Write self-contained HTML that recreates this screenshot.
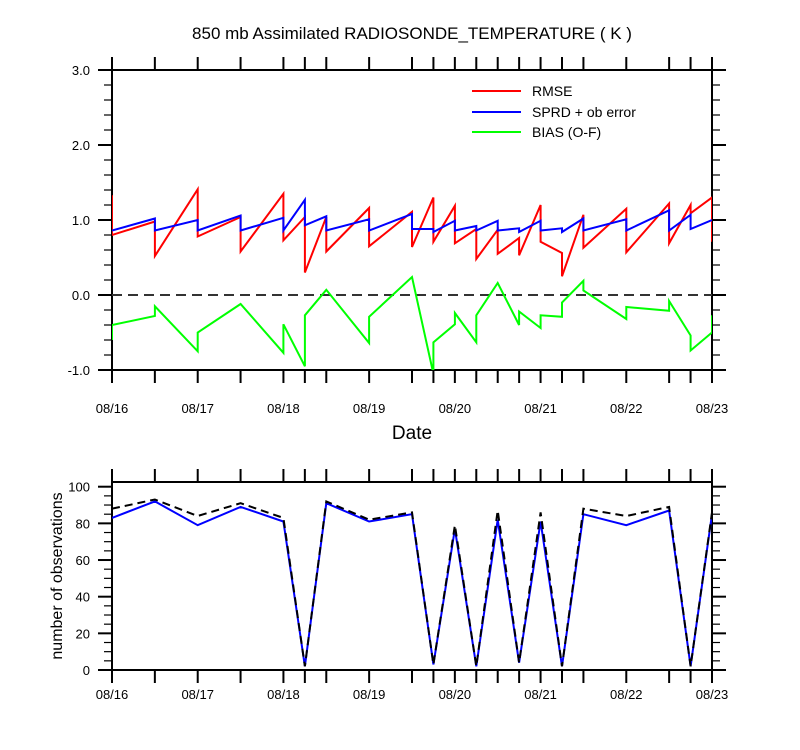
<!DOCTYPE html>
<html><head><meta charset="utf-8"><style>
html,body{margin:0;padding:0;background:#fff;}
svg{display:block;font-family:"Liberation Sans",sans-serif;}
</style></head><body>
<svg id="c" width="800" height="750" viewBox="0 0 800 750">
<text x="412" y="39" font-size="17" text-anchor="middle">850 mb Assimilated RADIOSONDE_TEMPERATURE ( K )</text>
<g id="topPanel"></g>
<g id="botPanel"></g>
<g>
<line x1="472" y1="91" x2="521" y2="91" stroke="#f00" stroke-width="2"/>
<text x="532" y="96" font-size="14">RMSE</text>
<line x1="472" y1="112" x2="521" y2="112" stroke="#00f" stroke-width="2"/>
<text x="532" y="117" font-size="14">SPRD + ob error</text>
<line x1="472" y1="132" x2="521" y2="132" stroke="#0f0" stroke-width="2"/>
<text x="532" y="137" font-size="14">BIAS (O-F)</text>
</g>
<text x="412" y="439" font-size="19" text-anchor="middle">Date</text>
<text transform="translate(62,576) rotate(-90)" font-size="16" text-anchor="middle">number of observations</text>
</svg>
<script>
// ---- data (hours since 08/16 00Z) ----
const xTickHours = [0,12,24,36,48,54,60,72,84,90,96,102,108,114,120,126,132,144,156,162,168];
const dateLabels = ["08/16","08/17","08/18","08/19","08/20","08/21","08/22","08/23"];
const yTicksTop = [-1,0,1,2,3];
const yTickLabelsTop = ["-1.0","0.0","1.0","2.0","3.0"];
const rmseT = [0,0,12,12,24,24,36,36,48,48,54,54,60,60,72,72,84,84,90,90,96,96,102,102,108,108,114,114,120,120,126,126,132,132,144,144,156,156,162,162,168,168];
const rmseV = [1.33,0.8,0.98,0.52,1.41,0.78,1.04,0.58,1.35,0.73,1.04,0.30,1.04,0.58,1.16,0.65,1.11,0.64,1.30,0.71,1.19,0.69,0.88,0.48,0.87,0.55,0.76,0.53,1.2,0.71,0.56,0.25,1.07,0.63,1.15,0.57,1.22,0.69,1.2,1.09,1.30,0.71];
const sprdT = [0,12,12,24,24,36,36,48,48,54,54,60,60,72,72,84,84,90,90,96,96,102,102,108,108,114,114,120,120,126,126,132,132,144,144,156,156,162,162,168];
const sprdV = [0.86,1.02,0.86,1.0,0.86,1.06,0.86,1.03,0.86,1.27,0.93,1.05,0.86,1.01,0.86,1.08,0.88,0.88,0.84,0.99,0.86,0.92,0.86,0.99,0.86,0.89,0.84,0.99,0.86,0.89,0.84,1.02,0.86,1.01,0.86,1.13,0.86,1.07,0.88,1.0];
const biasT = [0,0,12,12,24,24,36,48,48,54,54,60,72,72,84,90,90,96,96,102,102,108,114,114,120,120,126,126,132,132,144,144,156,156,162,162,168,168];
const biasV = [-0.6,-0.40,-0.28,-0.15,-0.75,-0.50,-0.12,-0.77,-0.39,-0.95,-0.27,0.07,-0.64,-0.29,0.24,-1.05,-0.63,-0.39,-0.24,-0.63,-0.27,0.16,-0.40,-0.22,-0.44,-0.27,-0.29,-0.10,0.19,0.06,-0.32,-0.16,-0.21,-0.08,-0.54,-0.74,-0.50,-0.27];
const obsT = [0,12,24,36,48,54,60,72,84,90,96,102,108,114,120,126,132,144,156,162,168];
const obsUsed = [83,92,79,89,81,2,91,81,85,3,77,2,82,4,81,2,85,79,87,2,85];
const obsTotal = [88,93,84,91,83,2,92,82,86,3,79,2,87,4,86,2,88,84,89,2,86];
const yTicksBot = [0,20,40,60,80,100];

const NS="http://www.w3.org/2000/svg";
const X0=112,X1=712;
function xs(h){return X0+(X1-X0)*h/168;}
function ysTop(v){return 295-75*v;}
function ysBot(v){return 670-1.833*v;}
function mk(parent,tag,attrs){const e=document.createElementNS(NS,tag);for(const k in attrs)e.setAttribute(k,attrs[k]);parent.appendChild(e);return e;}

function panel(g,yTop,yBot,ys,yt,ytl,minorStep,ymin,ymax,labelY){
  const clipId=g.id+"clip";
  const cp=mk(g,"clipPath",{id:clipId});
  mk(cp,"rect",{x:X0,y:yTop,width:X1-X0,height:yBot-yTop});
  xTickHours.forEach(h=>{
    const t=mk(g,"line",{x1:xs(h),x2:xs(h),y1:yTop,y2:yTop-13,stroke:"#000","stroke-width":2});
    
    
    const b=mk(g,"line",{x1:xs(h),x2:xs(h),y1:yBot,y2:yBot+13,stroke:"#000","stroke-width":2});
    
    
  });
  dateLabels.forEach((d,i)=>{
    const t=mk(g,"text",{x:xs(i*24),y:labelY,"font-size":13,"text-anchor":"middle"});
    t.textContent=d;
    
    
  });
  const n=Math.round((ymax-ymin)/minorStep);
  for(let k=0;k<=n;k++){
    const v=ymin+k*minorStep;
    const y=ys(v);
    const isMajor=yt.some(m=>Math.abs(m-v)<1e-6);
    const len=isMajor?14:8;
    const l=mk(g,"line",{x1:X0-len,x2:X0,y1:y,y2:y,stroke:"#000","stroke-width":isMajor?2:1.2});
    
    
    const r=mk(g,"line",{x1:X1,x2:X1+len,y1:y,y2:y,stroke:"#000","stroke-width":isMajor?2:1.2});
    
    
  }
  yt.forEach((v,i)=>{
    const t=mk(g,"text",{x:X0-22,y:ys(v)+5,"font-size":13,"text-anchor":"end"});
    t.textContent=ytl[i];
    
    
  });
  const fr=mk(g,"rect",{x:X0,y:yTop,width:X1-X0,height:yBot-yTop,fill:"none",stroke:"#000","stroke-width":2});
  
  
  return clipId;
}
function series(g,clip,T,V,ys,color,name,dash){
  const pts=T.map((h,i)=>xs(h).toFixed(1)+","+ys(V[i]).toFixed(1)).join(" ");
  const p=mk(g,"polyline",{points:pts,fill:"none",stroke:color,"stroke-width":2,"clip-path":"url(#"+clip+")"});
  if(dash)p.setAttribute("stroke-dasharray",dash);
  
  
}
const topG=document.getElementById("topPanel");
const c1=panel(topG,70,370,ysTop,yTicksTop,yTickLabelsTop,0.2,-1,3,413);
const zl=mk(topG,"line",{x1:X0,x2:X1,y1:ysTop(0),y2:ysTop(0),stroke:"#333","stroke-width":2,"stroke-dasharray":"10,6"});


series(topG,c1,rmseT,rmseV,ysTop,"#f00","rmse-line");
series(topG,c1,sprdT,sprdV,ysTop,"#00f","sprd-line");
series(topG,c1,biasT,biasV,ysTop,"#0f0","bias-line");
const botG=document.getElementById("botPanel");
const c2=panel(botG,482,670,ysBot,yTicksBot,yTicksBot.map(String),5,0,100,699);
series(botG,c2,obsT,obsUsed,ysBot,"#00f","obs-used-line");
series(botG,c2,obsT,obsTotal,ysBot,"#000","obs-total-line","8,5");
</script>
</body></html>
